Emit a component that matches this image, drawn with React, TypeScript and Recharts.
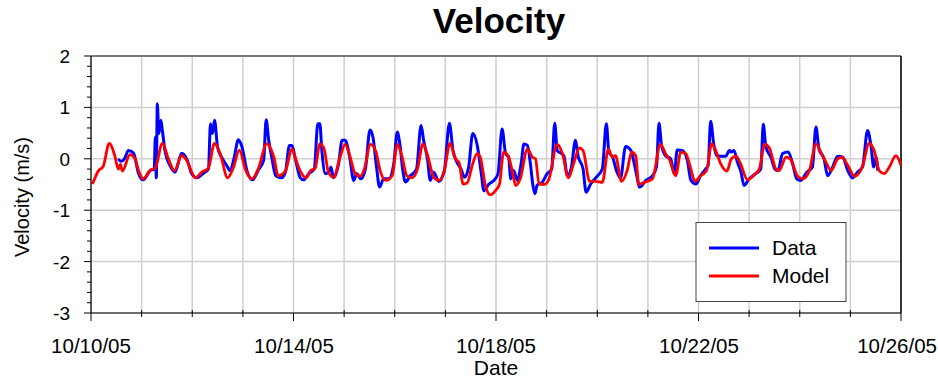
import { LineChart, Line, XAxis, YAxis, CartesianGrid, ReferenceLine } from "recharts";

// x values are days since 10/10/05 00:00
const dateLabels = ["10/10/05", "10/14/05", "10/18/05", "10/22/05", "10/26/05"];
const labelDays = [0, 4, 8, 12, 16];
const dayTicks = [0, 1, 2, 3, 4, 5, 6, 7, 8, 9, 10, 11, 12, 13, 14, 15, 16];
const yMajor = [-3, -2, -1, 0, 1, 2];
const yMinorStep = 0.2;

// measured velocity (m/s)
const dataPoints: [number, number][] = [
  [0.54, 0.0], [0.59, -0.05], [0.66, 0.0], [0.74, 0.16], [0.84, 0.11], [0.94, -0.29], [1.03, -0.41],
  [1.17, -0.23], [1.25, -0.2], [1.27, 0.42], [1.29, -0.37], [1.31, 1.07], [1.34, 0.49], [1.38, 0.75],
  [1.41, 0.55], [1.46, 0.16], [1.56, -0.13], [1.66, -0.26], [1.79, 0.11], [1.89, 0.0], [1.99, -0.29],
  [2.09, -0.37], [2.22, -0.28], [2.32, -0.2], [2.36, 0.68], [2.4, 0.49], [2.44, 0.75], [2.5, 0.23],
  [2.58, 0.03], [2.68, -0.13], [2.75, -0.23], [2.83, 0.03], [2.91, 0.37], [2.98, 0.24], [3.08, -0.23],
  [3.19, -0.41], [3.31, -0.21], [3.41, -0.03], [3.46, 0.76], [3.51, 0.36], [3.57, 0.03], [3.65, -0.33],
  [3.76, -0.37], [3.84, -0.26], [3.92, 0.26], [3.97, 0.26], [4.03, 0.03], [4.13, -0.36], [4.2, -0.41],
  [4.3, -0.29], [4.41, -0.2], [4.48, 0.68], [4.52, 0.68], [4.56, 0.16], [4.63, -0.29], [4.71, -0.23],
  [4.74, -0.16], [4.79, -0.37], [4.89, -0.1], [4.96, 0.36], [5.02, 0.36], [5.11, 0.03], [5.19, -0.42],
  [5.25, -0.29], [5.33, -0.39], [5.42, -0.2], [5.51, 0.56], [5.57, 0.42], [5.64, -0.16], [5.7, -0.55],
  [5.78, -0.39], [5.88, -0.39], [5.98, -0.1], [6.05, 0.52], [6.1, 0.29], [6.16, -0.23], [6.21, -0.45],
  [6.31, -0.33], [6.43, -0.2], [6.52, 0.65], [6.57, 0.36], [6.65, -0.03], [6.7, -0.42], [6.77, -0.26],
  [6.87, -0.44], [6.98, -0.23], [7.08, 0.69], [7.15, 0.16], [7.23, -0.07], [7.31, -0.2], [7.38, -0.36],
  [7.46, -0.16], [7.54, 0.49], [7.63, 0.26], [7.71, -0.29], [7.76, -0.62], [7.86, -0.49], [7.97, -0.41],
  [8.04, -0.29], [8.12, 0.58], [8.19, 0.1], [8.25, 0.03], [8.29, -0.39], [8.35, -0.23], [8.42, -0.42],
  [8.5, -0.07], [8.55, 0.29], [8.62, 0.26], [8.68, -0.1], [8.73, -0.52], [8.77, -0.68], [8.81, -0.52],
  [8.91, -0.46], [9.01, -0.29], [9.1, -0.2], [9.16, 0.69], [9.21, 0.16], [9.28, 0.11], [9.34, 0.06],
  [9.41, -0.33], [9.49, -0.16], [9.57, 0.36], [9.62, 0.06], [9.72, -0.2], [9.78, -0.65], [9.87, -0.49],
  [9.97, -0.37], [10.1, -0.2], [10.18, 0.68], [10.23, 0.13], [10.3, 0.04], [10.38, -0.23], [10.46, -0.37],
  [10.56, 0.24], [10.66, 0.17], [10.76, -0.23], [10.84, -0.55], [10.96, -0.42], [11.09, -0.33],
  [11.17, -0.16], [11.22, 0.69], [11.27, 0.26], [11.35, 0.06], [11.45, 0.0], [11.52, -0.29], [11.58, 0.17],
  [11.68, 0.16], [11.78, -0.03], [11.85, -0.42], [11.95, -0.49], [12.04, -0.33], [12.14, -0.2],
  [12.19, -0.13], [12.24, 0.73], [12.3, 0.29], [12.36, 0.06], [12.44, 0.05], [12.54, 0.05], [12.61, 0.16],
  [12.65, 0.13], [12.7, 0.16], [12.77, -0.07], [12.84, -0.26], [12.9, -0.52], [13.0, -0.39], [13.13, -0.29],
  [13.23, -0.2], [13.28, 0.67], [13.33, 0.23], [13.43, 0.03], [13.51, -0.2], [13.57, -0.23], [13.66, 0.1],
  [13.77, 0.13], [13.86, -0.1], [13.94, -0.39], [14.02, -0.42], [14.14, -0.26], [14.25, -0.16],
  [14.32, 0.62], [14.38, 0.19], [14.48, 0.0], [14.55, -0.33], [14.65, -0.16], [14.75, 0.05], [14.85, 0.03],
  [14.95, -0.23], [15.04, -0.37], [15.14, -0.26], [15.24, -0.16], [15.34, 0.55], [15.41, 0.23],
  [15.46, -0.16], [15.51, 0.03], [15.54, -0.23],
];

// model velocity (m/s)
const modelPoints: [number, number][] = [
  [0.03, -0.49], [0.15, -0.23], [0.24, -0.15], [0.36, 0.3], [0.47, 0.06], [0.54, -0.2], [0.58, -0.11],
  [0.62, -0.24], [0.77, 0.08], [0.87, 0.0], [0.94, -0.23], [1.03, -0.39], [1.17, -0.22], [1.27, -0.18],
  [1.41, 0.3], [1.53, 0.0], [1.65, -0.23], [1.79, 0.06], [1.89, -0.03], [2.06, -0.37], [2.19, -0.26],
  [2.32, -0.18], [2.44, 0.3], [2.55, 0.1], [2.7, -0.37], [2.81, -0.18], [2.93, 0.17], [3.05, -0.21],
  [3.18, -0.39], [3.31, -0.18], [3.47, 0.29], [3.61, 0.04], [3.7, -0.33], [3.84, -0.24], [3.97, 0.19],
  [4.03, 0.03], [4.13, -0.23], [4.25, -0.37], [4.33, -0.24], [4.43, -0.18], [4.52, 0.29], [4.6, 0.21],
  [4.69, -0.26], [4.79, -0.36], [4.92, 0.03], [5.02, 0.28], [5.12, 0.03], [5.22, -0.29], [5.32, -0.34],
  [5.4, -0.2], [5.52, 0.28], [5.62, 0.16], [5.72, -0.26], [5.82, -0.42], [5.95, -0.33], [6.05, 0.28],
  [6.14, 0.06], [6.24, -0.33], [6.34, -0.37], [6.44, -0.23], [6.56, 0.29], [6.65, 0.06], [6.77, -0.36],
  [6.87, -0.42], [6.98, -0.23], [7.09, 0.3], [7.2, 0.0], [7.27, -0.07], [7.35, -0.49], [7.43, -0.47],
  [7.53, -0.13], [7.63, 0.1], [7.69, 0.03], [7.79, -0.52], [7.89, -0.7], [7.99, -0.62], [8.07, -0.49],
  [8.15, 0.13], [8.24, 0.06], [8.32, -0.23], [8.39, -0.52], [8.48, -0.39], [8.62, 0.19], [8.72, 0.03],
  [8.78, 0.0], [8.85, -0.49], [8.95, -0.5], [9.04, -0.41], [9.21, 0.28], [9.31, 0.11], [9.43, -0.37],
  [9.54, -0.07], [9.65, 0.21], [9.72, 0.16], [9.85, -0.44], [9.97, -0.44], [10.1, -0.46], [10.22, 0.19],
  [10.3, 0.03], [10.36, 0.06], [10.48, -0.44], [10.59, -0.23], [10.68, 0.13], [10.76, 0.06], [10.82, -0.5],
  [10.92, -0.46], [11.09, -0.39], [11.25, 0.28], [11.35, 0.1], [11.42, 0.0], [11.55, -0.33], [11.65, 0.13],
  [11.75, 0.1], [11.83, -0.13], [11.93, -0.44], [12.04, -0.33], [12.16, -0.23], [12.26, 0.29],
  [12.34, 0.16], [12.44, -0.1], [12.56, -0.24], [12.65, 0.0], [12.74, 0.05], [12.82, -0.07], [12.97, -0.41],
  [13.1, -0.31], [13.2, -0.2], [13.31, 0.28], [13.4, 0.21], [13.53, -0.2], [13.59, -0.23], [13.73, 0.03],
  [13.81, 0.0], [13.96, -0.34], [14.06, -0.39], [14.19, -0.23], [14.32, 0.29], [14.43, 0.1], [14.52, -0.07],
  [14.62, -0.23], [14.75, 0.0], [14.83, 0.03], [14.95, -0.13], [15.08, -0.34], [15.24, -0.15], [15.37, 0.3],
  [15.47, 0.16], [15.57, -0.23], [15.67, -0.29], [15.77, -0.16], [15.9, 0.06], [16.0, -0.13],
];

const FONT = "'Liberation Sans', Arial, sans-serif";
const CHART_W = 938;

const dataSeries = dataPoints.map(([t, v]) => ({ t, v }));
const modelSeries = modelPoints.map(([t, v]) => ({ t, v }));

// minor ticks every 0.2 between the labelled integers
const yTicks: number[] = [];
for (let i = 0; i < yMajor.length - 1; i++) {
  for (let k = 0; k < 5; k++) yTicks.push(+(yMajor[i] + k * yMinorStep).toFixed(1));
}
yTicks.push(yMajor[yMajor.length - 1]);

function DateTick(props: any) {
  const { x, y, payload } = props;
  const i = labelDays.indexOf(payload.value);
  const major = i >= 0;
  // the last label hugs the right edge of the picture, like the original
  const last = i === labelDays.length - 1;
  return (
    <g>
      <line x1={x} x2={x} y1={major ? y : y - 3} y2={major ? y + 8 : y + 4} stroke="#000" strokeWidth={1} />
      {major && (
        <text
          x={last ? CHART_W - 1 : Math.round(x)}
          y={Math.round(y + 40)}
          textAnchor={last ? "end" : "middle"}
          fontSize={20.5}
          fill="#000"
          stroke="none"
          fontFamily={FONT}
        >
          {dateLabels[i]}
        </text>
      )}
    </g>
  );
}

function VelocityTick(props: any) {
  const { x, y, payload } = props;
  const v = payload.value;
  const major = Math.abs(v - Math.round(v)) < 1e-6;
  return (
    <g>
      <line x1={x - (major ? 7 : 4)} x2={x} y1={y} y2={y} stroke="#000" strokeWidth={1} />
      {major && (
        <text
          x={Math.round(x - 21)}
          y={Math.round(y + 7)}
          textAnchor="end"
          fontSize={19}
          fill="#000"
          stroke="none"
          fontFamily={FONT}
        >
          {Math.round(v)}
        </text>
      )}
    </g>
  );
}

export default function App() {
  return (
    <div style={{ position: "absolute", left: 0, top: 0, width: CHART_W, height: 379, background: "#fff" }}>
      <LineChart width={CHART_W} height={379} margin={{ top: 56, right: 37, left: 0, bottom: 6 }}>
        <CartesianGrid horizontalValues={yMajor} stroke="#cfcfcf" strokeWidth={1.5} />
        <XAxis
          dataKey="t"
          type="number"
          domain={[0, 16]}
          ticks={dayTicks}
          interval={0}
          allowDataOverflow
          height={60}
          tickSize={0}
          tickMargin={0}
          tickLine={false}
          axisLine={{ stroke: "#000", strokeWidth: 1.2 }}
          tick={<DateTick />}
        />
        <YAxis
          type="number"
          domain={[-3, 2]}
          ticks={yTicks}
          interval={0}
          allowDataOverflow
          width={91}
          tickSize={0}
          tickMargin={0}
          tickLine={false}
          axisLine={{ stroke: "#000", strokeWidth: 1.2 }}
          tick={<VelocityTick />}
        />
        <ReferenceLine y={2} stroke="#777" strokeWidth={2} />
        <ReferenceLine x={16} stroke="#000" strokeWidth={1.5} />
        <Line
          data={dataSeries}
          dataKey="v"
          name="Data"
          type="monotone"
          stroke="#0000ff"
          strokeWidth={3}
          dot={false}
          isAnimationActive={false}
        />
        <Line
          data={modelSeries}
          dataKey="v"
          name="Model"
          type="monotone"
          stroke="#ff0000"
          strokeWidth={2.8}
          dot={false}
          isAnimationActive={false}
        />
      </LineChart>
      <svg
        width={CHART_W}
        height={379}
        style={{ position: "absolute", left: 0, top: 0, pointerEvents: "none" }}
        fontFamily={FONT}
      >
        <text x={499} y={33} textAnchor="middle" fontSize={35} fontWeight="bold" fill="#000">
          Velocity
        </text>
        <text x={496} y={375} textAnchor="middle" fontSize={21} fill="#000">
          Date
        </text>
        <text x={28.5} y={197} transform="rotate(-90 28.5 197)" textAnchor="middle" fontSize={20} fill="#000">
          Velocity (m/s)
        </text>
        <rect x={696} y={222.5} width={150} height={79} fill="#fff" stroke="#444" strokeWidth={1} />
        <line x1={709} x2={759} y1={248} y2={248} stroke="#0000ff" strokeWidth={3} />
        <text x={772} y={255} fontSize={21} fill="#000">
          Data
        </text>
        <line x1={709} x2={759} y1={276} y2={276} stroke="#ff0000" strokeWidth={3} />
        <text x={772} y={283} fontSize={21} fill="#000">
          Model
        </text>
      </svg>
    </div>
  );
}
